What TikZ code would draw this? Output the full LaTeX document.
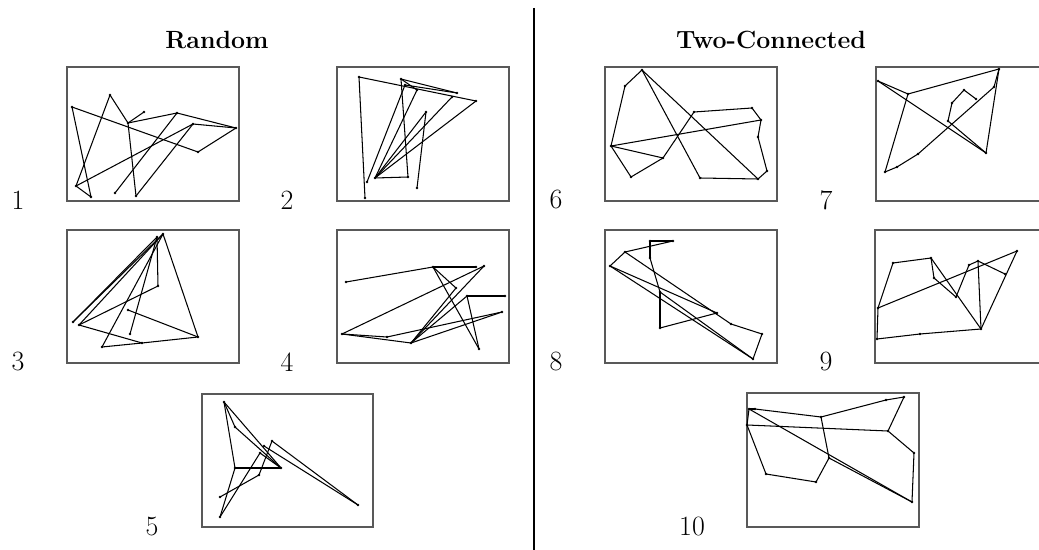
\documentclass[tikz,border=0pt]{standalone}
\usepackage{fontspec}
\begin{document}
\begin{tikzpicture}[x=1bp,y=-1bp,
  edge/.style={line width=1.05bp},
  frame/.style={draw=black!65,line width=1.1bp},
  divider/.style={line width=1.4bp},
  lbl/.style={font=\fontsize{28}{32}\selectfont, inner sep=0},
  ttl/.style={font=\bfseries\fontsize{25}{29}\selectfont, inner sep=0}]
\useasboundingbox (0,0) rectangle (1039,550);
\fill[white] (0,0) rectangle (1039,550);
% titles and divider
\node[ttl] (tRandom) at (217,40) {Random};
\node[ttl] (tTwo) at (771,40) {Two-Connected};
\coordinate (divtop) at (534,8);
\coordinate (divbot) at (534,550);
\draw[divider] (divtop) -- (divbot);
% frames
\draw[frame] (67,67) rectangle (239,201);
\draw[frame] (337,67) rectangle (509,201);
\draw[frame] (67,230) rectangle (239,363);
\draw[frame] (337,230) rectangle (509,363);
\draw[frame] (202,394) rectangle (373,527);
\draw[frame] (605,67) rectangle (777,201);
\draw[frame] (876,67) rectangle (1048,201);
\draw[frame] (605,230) rectangle (777,363);
\draw[frame] (875,230) rectangle (1047,363);
\draw[frame] (747,393) rectangle (919,527);
% labels
\node[lbl] (n1) at (18,200) {1};
\node[lbl] (n2) at (287,200) {2};
\node[lbl] (n3) at (18,362) {3};
\node[lbl] (n4) at (287,362) {4};
\node[lbl] (n5) at (152,527) {5};
\node[lbl] (n6) at (556,200) {6};
\node[lbl] (n7) at (826,200) {7};
\node[lbl] (n8) at (556,362) {8};
\node[lbl] (n9) at (826,362) {9};
\node[lbl] (n10) at (692,527) {10};
% vertices
\foreach \n/\x/\y in {
 a1/72/107, b1/110/95, c1/128/123, d1/144/112, e1/177/113, f1/193/124, g1/236/128, h1/198/152, i1/76/186, j1/91/197, k1/115/193, l1/136/196,
 a2/359/77, b2/365/198, c2/401/79, d2/405/85, e2/417/90, f2/457/93, g2/452/97, h2/476/101, i2/426/112, j2/417/188, k2/367/182, l2/375/178, m2/408/177,
 a3/163/234, b3/157/237, c3/158/286, d3/73/322, e3/79/325, f3/128/310, g3/130/334, h3/102/347, i3/142/343, j3/198/337,
 a4/346/282, b4/433/267, c4/476/267, d4/484/266, e4/456/288, f4/467/296, g4/505/296, h4/502/312, i4/342/334, j4/387/337, k4/411/343, l4/479/349,
 a5/224/402, b5/235/427, c5/272/441, d5/260/453, e5/235/468, f5/281/468, g5/259/475, h5/220/497, i5/220/517, j5/358/505, m5/264/446,
 a6/642/70, b6/625/86, c6/611/146, d6/631/177, e6/663/158, f6/694/112, g6/752/108, h6/761/120, i6/758/137, j6/767/171, k6/758/179, l6/700/178,
 a7/878/81, b7/908/94, c7/999/69, d7/994/87, e7/964/90, f7/976/99, g7/952/103, h7/948/121, i7/986/153, j7/918/154, k7/897/167, l7/885/172,
 a8/650/241, b8/673/241, c8/650/258, d8/625/252, e8/610/266, f8/660/292, g8/660/328, h8/717/313, i8/731/324, j8/762/334, k8/753/359,
 a9/893/263, b9/931/258, c9/934/278, d9/956/297, e9/969/265, f9/978/261, g9/1005/274, h9/1017/251, i9/981/329, j9/878/308, k9/877/339, l9/920/334,
 a10/749/409, b10/755/409, c10/747/425, d10/821/417, e10/886/400, f10/904/397, g10/888/431, h10/914/453, i10/912/502, j10/829/458, k10/816/482, l10/766/474}
 {\coordinate (\n) at (\x,\y); \fill (\n) circle (1.3bp);}
% edges
\foreach \u/\v in {
 a1/h1, a1/j1, i1/b1, b1/c1, c1/d1, c1/l1, c1/e1, e1/g1, g1/h1, i1/j1, i1/f1, f1/g1, l1/f1, k1/e1,
 a2/b2, a2/h2, c2/m2, c2/f2, c2/e2, d2/f2, d2/k2, e2/l2, g2/l2, h2/l2, i2/l2, i2/j2, l2/m2,
 a3/j3, a3/h3, d3/a3, d3/b3, b3/c3, c3/e3, e3/a3, e3/i3, h3/i3, i3/j3, f3/j3, g3/b3,
 a4/b4, b4/c4, b4/e4, b4/l4, e4/k4, d4/i4, d4/k4, i4/k4, j4/h4, k4/h4, k4/f4, f4/g4, f4/l4, i4/j4,
 a5/b5, a5/e5, a5/f5, b5/f5, c5/g5, c5/j5, m5/j5, d5/i5, d5/f5, e5/f5, e5/i5, h5/g5,
 a6/b6, b6/c6, c6/d6, d6/e6, e6/c6, e6/f6, f6/g6, g6/h6, h6/i6, i6/j6, j6/k6, k6/a6, a6/l6, l6/k6, c6/h6,
 a7/b7, a7/i7, b7/c7, b7/l7, c7/d7, c7/i7, d7/j7, j7/k7, k7/l7, e7/f7, e7/g7, g7/h7, h7/i7,
 a8/b8, a8/c8, b8/d8, d8/e8, c8/f8, f8/g8, g8/h8, d8/i8, e8/k8, e8/h8, f8/k8, i8/j8, j8/k8,
 a9/b9, b9/c9, c9/d9, b9/i9, d9/e9, e9/f9, f9/g9, f9/i9, i9/h9, h9/j9, j9/a9, j9/k9, k9/l9, l9/i9,
 a10/b10, b10/d10, d10/e10, e10/f10, f10/g10, g10/h10, h10/i10, c10/g10, c10/l10, l10/k10, k10/j10, j10/d10, a10/i10, j10/i10, a10/c10}
 {\draw[edge] (\u) -- (\v);}
\end{tikzpicture}
\end{document}
